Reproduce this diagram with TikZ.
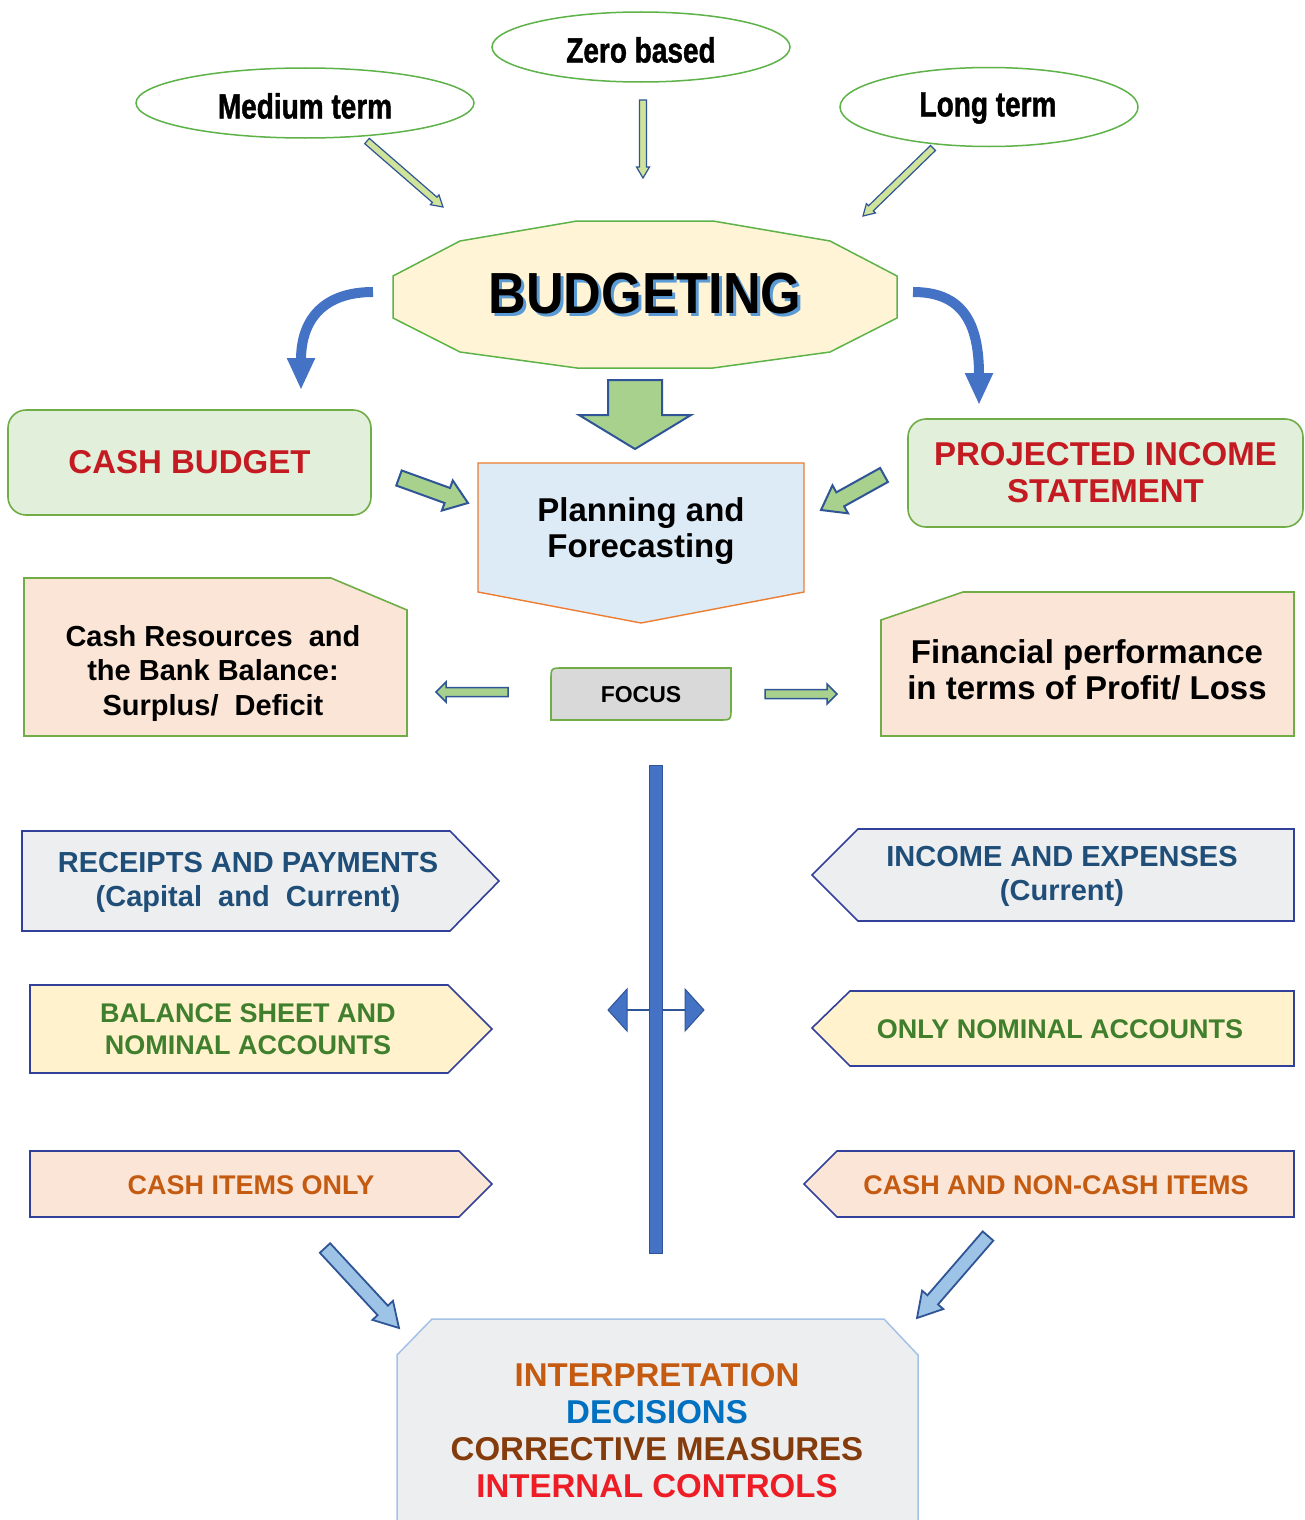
\documentclass[tikz,border=0pt]{standalone}
\usepackage{fontspec}
\setmainfont{Liberation Sans}
\newfontfamily\narrowsans[FakeStretch=0.8, FakeBold=1.2]{Liberation Sans}
\newfontfamily\widesans[FakeStretch=0.9]{Liberation Sans}
\usetikzlibrary{calc, arrows.meta, positioning, shapes.geometric}

\definecolor{ovalgreen}{HTML}{5DB248}
\definecolor{boxline}{HTML}{70AD47}
\definecolor{greenfill}{HTML}{E2EFDA}
\definecolor{peach}{HTML}{FBE5D6}
\definecolor{cream}{HTML}{FFF2CC}
\definecolor{paleblue}{HTML}{DDEBF7}
\definecolor{palegray}{HTML}{EDEEEF}
\definecolor{focusgray}{HTML}{D9D9D9}
\definecolor{planline}{HTML}{ED7D31}
\definecolor{tagline}{HTML}{33409A}
\definecolor{arrowblue}{HTML}{2F5597}
\definecolor{barblue}{HTML}{4472C4}
\definecolor{shadowblue}{HTML}{5B9BD5}
\definecolor{leafgreen}{HTML}{A9D18E}
\definecolor{limefill}{HTML}{CFE39B}
\definecolor{skyfill}{HTML}{9DC3E6}
\definecolor{skyline}{HTML}{A4C2E8}
\definecolor{boldred}{HTML}{C41A22}
\definecolor{navytext}{HTML}{1F4E79}
\definecolor{greentext}{HTML}{3F7F2E}
\definecolor{orangetext}{HTML}{C55A11}
\definecolor{bluetext}{HTML}{0070C0}
\definecolor{browntext}{HTML}{843C0C}
\definecolor{redtext}{HTML}{EE1C25}

% font size in px, with line spacing
\newcommand{\fs}[2]{\fontsize{#1}{#2}\selectfont\bfseries}

% block arrow: [style] tail, tip, half shaft, half head, head length
\newcommand{\blockarrow}[6][]{%
  \coordinate (ba) at ($(#3)!#6!(#2)$);
  \draw[#1] ($(#2)!#4!90:(#3)$) -- ($(ba)!#4!-90:(#2)$) -- ($(ba)!#5!-90:(#2)$)
    -- (#3) -- ($(ba)!#5!90:(#2)$) -- ($(ba)!#4!90:(#2)$) -- ($(#2)!#4!-90:(#3)$) -- cycle;}

\tikzset{
  >=latex,
  % boxes
  oval/.style={ellipse, draw=ovalgreen, line width=1.5pt, fill=white, inner sep=0pt},
  greenbox/.style={draw=boxline, line width=1.6pt, fill=greenfill, rounded corners=18pt},
  notebox/.style={draw=boxline, line width=1.6pt, fill=peach},
  tag/.style={draw=tagline, line width=1.6pt},
  txt/.style={align=center, inner sep=0pt},
  % arrows
  thin arrow/.style={fill=limefill, draw=arrowblue, line width=1.2pt},
  fat arrow/.style={fill=leafgreen, draw=arrowblue, line width=2pt},
  sky arrow/.style={fill=skyfill, draw=arrowblue, line width=1.8pt},
  bend arrow/.style={draw=barblue, line width=10pt, -{Triangle[width=26pt,length=32pt]}}
}

\begin{document}
\begin{tikzpicture}[x=1pt, y=-1pt]
  \fill[white] (0,0) rectangle (1305,1520);
  \useasboundingbox (0,0) rectangle (1305,1520);

  % kinds of budget
  \node[oval, minimum width=338pt, minimum height=70pt] (med) at (305,103) {};
  \node[txt, font=\narrowsans\fs{35}{40}] (medtxt) at (305,106) {Medium term};
  \node[oval, minimum width=298pt, minimum height=70pt] (zero) at (641,47) {};
  \node[txt, font=\narrowsans\fs{35}{40}] (zerotxt) at (641,50) {Zero based};
  \node[oval, minimum width=298pt, minimum height=79pt] (long) at (989,107) {};
  \node[txt, font=\narrowsans\fs{35}{40}] (longtxt) at (988,108) {Long term};

  \coordinate (mt0) at (367,141);  \coordinate (mt1) at (443,207);
  \coordinate (zb0) at (643,100);  \coordinate (zb1) at (643,178);
  \coordinate (lt0) at (933,148);  \coordinate (lt1) at (863,216);
  \blockarrow[thin arrow]{mt0}{mt1}{3.5pt}{6.5pt}{11pt}
  \blockarrow[thin arrow]{zb0}{zb1}{3.5pt}{6.5pt}{11pt}
  \blockarrow[thin arrow]{lt0}{lt1}{3.5pt}{6.5pt}{11pt}

  % budgeting
  \draw[ovalgreen, line width=1.5pt, fill=cream!80!white]
    (393,276) -- (460,241) -- (577,221) -- (713,221) -- (830,241) -- (897,276)
    -- (897,318) -- (830,352) -- (713,368) -- (577,368) -- (460,352) -- (393,318) -- cycle;
  \node[txt, text=shadowblue, font=\widesans\fs{58}{60}] (budgetsh) at (648,297) {BUDGETING};
  \node[txt, font=\widesans\fs{58}{60}] (budget) at (645,294) {BUDGETING};

  \coordinate (cl0) at (373,292);  \coordinate (cl1) at (301,390);
  \coordinate (cr0) at (913,292);  \coordinate (cr1) at (979,405);
  \draw[bend arrow] (cl0) .. controls (325,292) and (301,318) .. (cl1);
  \draw[bend arrow] (cr0) .. controls (962,292) and (979,322) .. (cr1);

  \coordinate (bd0) at (635,380);  \coordinate (bd1) at (635,449);
  \blockarrow[fat arrow]{bd0}{bd1}{27pt}{56pt}{34pt}

  % planning
  \draw[planline, line width=1.4pt, fill=paleblue]
    (478,463) -- (804,463) -- (804,592) -- (641,623) -- (478,592) -- cycle;
  \node[txt, font=\fs{33}{36}] (plan) at (641,531) {Planning and\\Forecasting};

  \node[greenbox, minimum width=363pt, minimum height=105pt, text=boldred, font=\fs{33}{37}] (cashb) at (189.5,462.5) {CASH BUDGET};
  \node[greenbox, minimum width=395pt, minimum height=108pt, text=boldred, font=\fs{33}{37}, align=center] (pis) at (1105.5,473) {PROJECTED INCOME\\STATEMENT};

  \coordinate (cb0) at (399,478);  \coordinate (cb1) at (468,503);
  \coordinate (pi0) at (884,475);  \coordinate (pi1) at (821,510);
  \blockarrow[fat arrow]{cb0}{cb1}{8pt}{16pt}{22pt}
  \blockarrow[fat arrow]{pi0}{pi1}{8pt}{16pt}{22pt}

  % focus
  \draw[notebox] (24,578) -- (331,578) -- (407,610) -- (407,736) -- (24,736) -- cycle;
  \node[txt, font=\fs{29}{34.5}] (cashres) at (213,673) {Cash Resources~ and\\the Bank Balance:\\Surplus/~ Deficit};
  \draw[notebox] (963,592) -- (1294,592) -- (1294,736) -- (881,736) -- (881,620) -- cycle;
  \node[txt, font=\fs{33}{36}] (finperf) at (1087,670) {Financial performance\\in terms of Profit/ Loss};

  \draw[boxline, line width=1.6pt, fill=focusgray]
    (551,720) -- (551,680) .. controls (551,668) .. (563,668) -- (731,668)
    -- (731,708) .. controls (731,720) .. (719,720) -- cycle;
  \node[txt, font=\fs{23}{26}] (focus) at (641,695) {FOCUS};

  \coordinate (fl0) at (508,692);  \coordinate (fl1) at (436,692);
  \coordinate (fr0) at (765,694);  \coordinate (fr1) at (837,694);
  \blockarrow[fat arrow, line width=1.5pt]{fl0}{fl1}{4.5pt}{10pt}{10pt}
  \blockarrow[fat arrow, line width=1.5pt]{fr0}{fr1}{4.5pt}{10pt}{10pt}

  % divider with two-way arrow
  \draw[arrowblue, line width=2pt] (627,1010) -- (685,1010);
  \draw[fill=barblue, draw=arrowblue, line width=1pt] (627,989) -- (608,1010) -- (627,1031) -- cycle;
  \draw[fill=barblue, draw=arrowblue, line width=1pt] (685,989) -- (704,1010) -- (685,1031) -- cycle;
  \draw[fill=barblue, draw=arrowblue, line width=1pt] (649,765) rectangle (662,1253);

  % cash budget side
  \draw[tag, fill=palegray] (22,831) -- (450,831) -- (499,881) -- (450,931) -- (22,931) -- cycle;
  \node[txt, text=navytext, font=\fs{29}{34}] (recpay) at (248,882) {RECEIPTS AND PAYMENTS\\(Capital~ and~ Current)};
  \draw[tag, fill=cream] (30,985) -- (448,985) -- (492,1029) -- (448,1073) -- (30,1073) -- cycle;
  \node[txt, text=greentext, font=\fs{27}{32}] (balsheet) at (248,1029) {BALANCE SHEET AND\\NOMINAL ACCOUNTS};
  \draw[tag, fill=peach] (30,1151) -- (459,1151) -- (492,1184) -- (459,1217) -- (30,1217) -- cycle;
  \node[txt, text=orangetext, font=\fs{27}{32}] (cashonly) at (251,1185) {CASH ITEMS ONLY};

  % income statement side
  \draw[tag, fill=palegray] (1294,829) -- (858,829) -- (812,875) -- (858,921) -- (1294,921) -- cycle;
  \node[txt, text=navytext, font=\fs{29}{34}] (incexp) at (1062,876) {INCOME AND EXPENSES\\(Current)};
  \draw[tag, fill=cream] (1294,991) -- (850,991) -- (812,1028) -- (850,1066) -- (1294,1066) -- cycle;
  \node[txt, text=greentext, font=\fs{27}{32}] (nominal) at (1060,1029) {ONLY NOMINAL ACCOUNTS};
  \draw[tag, fill=peach] (1294,1151) -- (837,1151) -- (804,1184) -- (837,1217) -- (1294,1217) -- cycle;
  \node[txt, text=orangetext, font=\fs{27}{32}] (noncash) at (1056,1185) {CASH AND NON-CASH ITEMS};

  \coordinate (sl0) at (325,1248);  \coordinate (sl1) at (399,1328);
  \coordinate (sr0) at (988,1236);  \coordinate (sr1) at (917,1318);
  \blockarrow[sky arrow]{sl0}{sl1}{7pt}{14pt}{24pt}
  \blockarrow[sky arrow]{sr0}{sr1}{7pt}{14pt}{24pt}

  % outcome
  \fill[palegray] (397,1522) -- (397,1355) -- (432,1319) -- (884,1319) -- (918,1355) -- (918,1522) -- cycle;
  \draw[skyline, line width=1.5pt] (397,1522) -- (397,1355) -- (432,1319) -- (884,1319) -- (918,1355) -- (918,1522);
  \node[txt, font=\fs{33}{37}] (outcome) at (657,1431)
    {\textcolor{orangetext}{INTERPRETATION}\\\textcolor{bluetext}{DECISIONS}\\
     \textcolor{browntext}{CORRECTIVE MEASURES}\\\textcolor{redtext}{INTERNAL CONTROLS}};
\end{tikzpicture}
\end{document}
